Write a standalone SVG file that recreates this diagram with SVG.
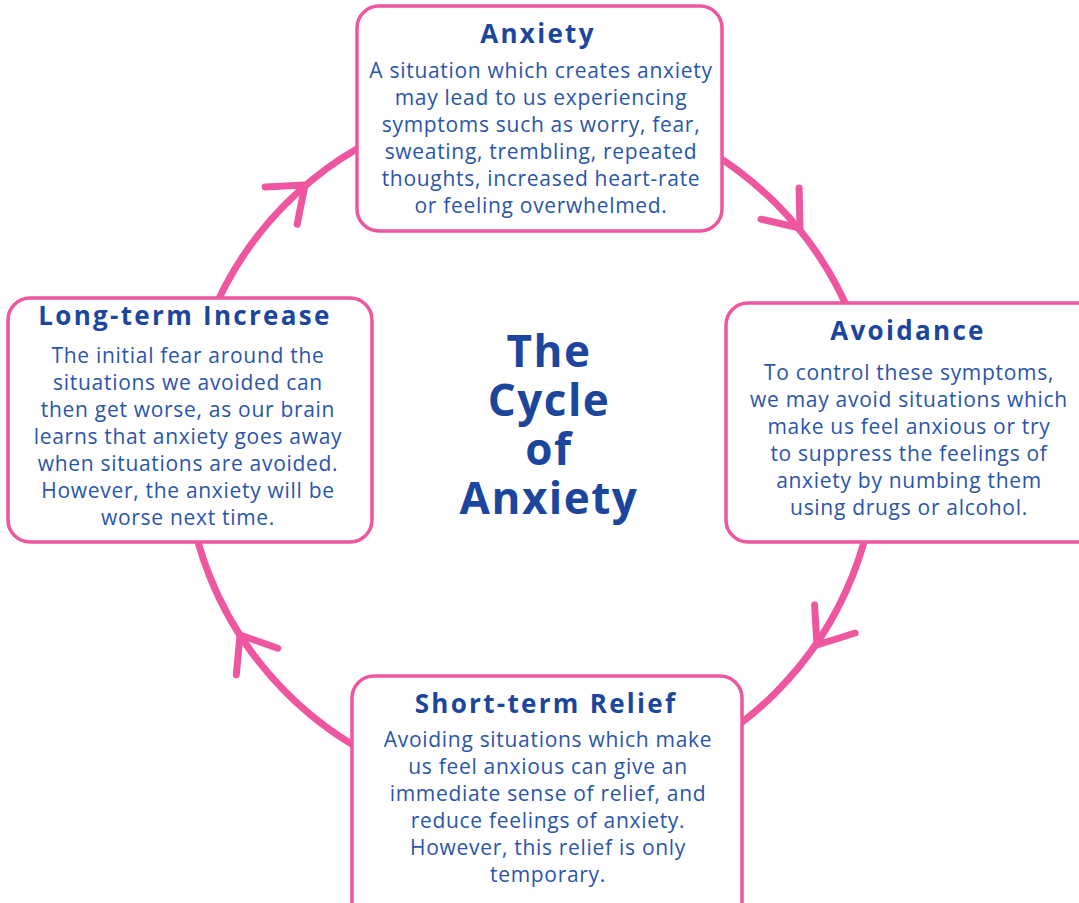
<svg xmlns="http://www.w3.org/2000/svg" width="1079" height="903" viewBox="0 0 1079 903">
<style>
.ring{fill:none;stroke:#EE579F;stroke-width:7}
.chev{fill:none;stroke:#EE579F;stroke-width:7;stroke-linecap:round;stroke-linejoin:round}
.box{fill:#ffffff;stroke:#EE579F;stroke-width:3.5}
.h{font-family:"Open Sans","Liberation Sans",sans-serif;font-weight:700;font-size:26px;fill:#1C469E;text-anchor:middle;letter-spacing:2.3px}
.b{font-family:"Open Sans","Liberation Sans",sans-serif;font-weight:400;font-size:21px;fill:#2A55AA;text-anchor:middle;letter-spacing:0.7px}
.t{font-family:"Open Sans","Liberation Sans",sans-serif;font-weight:700;font-size:44px;fill:#1C469E;text-anchor:middle;letter-spacing:1.5px}
</style>
<defs>
<path id="chev" d="M -31.5 -24.6 L 0 0 L -31.5 24.6"/>
</defs>
<rect width="1079" height="903" fill="#ffffff"/>
<g id="connectors">
<circle class="ring" cx="531" cy="448" r="346"/>
<use href="#chev" class="chev" transform="translate(305 185) rotate(-40.7)"/>
<use href="#chev" class="chev" transform="translate(800 228) rotate(50.7)"/>
<use href="#chev" class="chev" transform="translate(817 645) rotate(124.5)"/>
<use href="#chev" class="chev" transform="translate(240 635) rotate(237.3)"/>
</g>
<g id="title">
<text class="t" x="549" y="367">The</text>
<text class="t" x="549" y="416">Cycle</text>
<text class="t" x="549" y="465">of</text>
<text class="t" x="549" y="514">Anxiety</text>
</g>
<g id="node-anxiety">
<rect class="box" x="357" y="6" width="365" height="225" rx="22"/>
<text class="h" x="538" y="43">Anxiety</text>
<text class="b" x="541" y="78">A situation which creates anxiety</text>
<text class="b" x="541" y="105">may lead to us experiencing</text>
<text class="b" x="541" y="132">symptoms such as worry, fear,</text>
<text class="b" x="541" y="159">sweating, trembling, repeated</text>
<text class="b" x="541" y="186">thoughts, increased heart-rate</text>
<text class="b" x="541" y="213">or feeling overwhelmed.</text>
</g>
<g id="node-avoidance">
<rect class="box" x="726" y="303" width="380" height="239" rx="22"/>
<text class="h" x="908" y="340">Avoidance</text>
<text class="b" x="909" y="380">To control these symptoms,</text>
<text class="b" x="909" y="407">we may avoid situations which</text>
<text class="b" x="909" y="434">make us feel anxious or try</text>
<text class="b" x="909" y="461">to suppress the feelings of</text>
<text class="b" x="909" y="488">anxiety by numbing them</text>
<text class="b" x="909" y="515">using drugs or alcohol.</text>
</g>
<g id="node-relief">
<rect class="box" x="352" y="676" width="390" height="260" rx="22"/>
<text class="h" x="546" y="713">Short-term Relief</text>
<text class="b" x="548" y="747">Avoiding situations which make</text>
<text class="b" x="548" y="774">us feel anxious can give an</text>
<text class="b" x="548" y="801">immediate sense of relief, and</text>
<text class="b" x="548" y="828">reduce feelings of anxiety.</text>
<text class="b" x="548" y="855">However, this relief is only</text>
<text class="b" x="548" y="882">temporary.</text>
</g>
<g id="node-increase">
<rect class="box" x="8" y="298" width="364" height="244" rx="22"/>
<text class="h" x="185" y="325">Long-term Increase</text>
<text class="b" x="188" y="363">The initial fear around the</text>
<text class="b" x="188" y="390">situations we avoided can</text>
<text class="b" x="188" y="417">then get worse, as our brain</text>
<text class="b" x="188" y="444">learns that anxiety goes away</text>
<text class="b" x="188" y="471">when situations are avoided.</text>
<text class="b" x="188" y="498">However, the anxiety will be</text>
<text class="b" x="188" y="525">worse next time.</text>
</g>
</svg>
